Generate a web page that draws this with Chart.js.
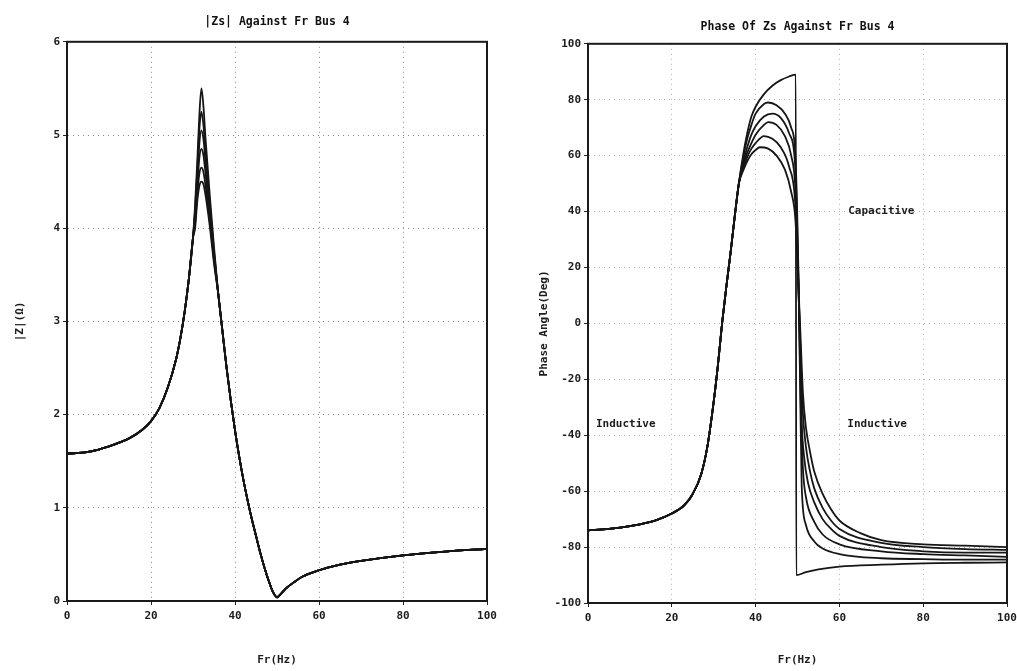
<!DOCTYPE html>
<html>
<head>
<meta charset="utf-8">
<script src="https://cdn.jsdelivr.net/npm/chart.js@4"></script>
<style>
  html, body { margin: 0; padding: 0; background: #fff; }
  #wrap { position: relative; width: 1017px; height: 671px; overflow: hidden; }
  #magBox { position: absolute; left: 0; top: 0; width: 505px; height: 671px; }
  #phaseBox { position: absolute; left: 505px; top: 0; width: 512px; height: 671px; }
</style>
</head>
<body>
<div id="wrap">
  <div id="magBox"><canvas id="magChart" width="505" height="671"></canvas></div>
  <div id="phaseBox"><canvas id="phaseChart" width="512" height="671"></canvas></div>
</div>
<script>
const freqTicks = [0, 20, 40, 60, 80, 100];
const magTicks = [0, 1, 2, 3, 4, 5, 6];
const phaseTicks = [-100, -80, -60, -40, -20, 0, 20, 40, 60, 80, 100];

// |Zs| - shared rise, per-case peak, shared fall
const magRiseFreq = [0, 5, 10, 15, 18, 20, 22, 24, 26, 27, 28, 29, 30];
const magRise = [1.58, 1.6, 1.66, 1.75, 1.84, 1.93, 2.07, 2.29, 2.6, 2.82, 3.1, 3.45, 3.9];
const magPeakFreq = [30.5, 31, 31.5, 32, 32.5, 33, 34, 35];
const magPeak1 = [4.25, 4.7, 5.2, 5.5, 5.3, 4.95, 4.35, 3.8];
const magPeak2 = [4.2, 4.6, 5.05, 5.25, 5.1, 4.8, 4.25, 3.75];
const magPeak3 = [4.15, 4.5, 4.9, 5.05, 4.95, 4.7, 4.2, 3.72];
const magPeak4 = [4.1, 4.42, 4.75, 4.85, 4.78, 4.58, 4.15, 3.7];
const magPeak5 = [4.05, 4.35, 4.58, 4.65, 4.6, 4.45, 4.08, 3.66];
const magPeak6 = [4.0, 4.28, 4.45, 4.5, 4.47, 4.35, 4.02, 3.62];
const magFallFreq = [36, 37, 38, 39, 40, 41, 42, 43, 44, 45, 46, 47, 48, 49, 50, 51, 52, 54, 56, 60, 65, 70, 80, 90, 100];
const magFall = [3.3, 2.9, 2.5, 2.15, 1.83, 1.55, 1.3, 1.08, 0.88, 0.7, 0.52, 0.36, 0.22, 0.1, 0.04, 0.08, 0.13, 0.2, 0.26, 0.33, 0.39, 0.43, 0.49, 0.53, 0.56];

// Phase of Zs - shared rise, then one tail per case
const phaseRiseFreq = [0, 5, 10, 16, 20, 23, 25, 27, 28.5, 30, 31, 32, 33, 34, 35, 36];
const phaseRise = [-74, -73.5, -72.5, -70.5, -68, -65, -61, -54, -44, -28, -15, 0, 13, 25, 38, 50];
const phaseFreqA = [37, 38, 39, 40, 42, 44, 46, 48, 49.6, 49.7, 52, 55, 60, 70, 80, 90, 100];
const phaseA = [60, 68, 74, 77.5, 82, 85, 87, 88.3, 89, -90, -89, -88, -87, -86.3, -85.8, -85.6, -85.5];
const phaseFreqB = [37, 38, 39, 40, 42, 43, 45, 47, 48.5, 49.5, 50.2, 50.6, 51, 52, 54, 56, 60, 70, 80, 90, 100];
const phaseB = [59, 66, 71, 75, 78.5, 79, 78, 75, 70, 60, 20, -20, -58, -72, -78, -80.5, -82.5, -84, -84.3, -84.5, -84.5];
const phaseFreqC = [37, 38, 39, 40, 42, 44, 46, 48, 49.5, 50.3, 50.8, 51.3, 52, 54, 56, 60, 70, 80, 90, 100];
const phaseC = [57.5, 63, 67.5, 70.5, 74, 75, 73.5, 68, 55, 10, -30, -52, -62, -71, -75.5, -79, -81.5, -82.5, -83, -83.5];
const phaseFreqD = [37, 38, 39, 40, 42, 43, 45, 47, 48.5, 49.5, 50.4, 51, 51.6, 52.5, 54, 56, 58, 60, 70, 80, 90, 100];
const phaseD = [56.5, 61, 64.5, 67.5, 71, 72, 71, 67, 60, 48, 5, -35, -48, -57, -64, -70, -73.5, -76, -80, -81.5, -82, -82];
const phaseFreqE = [37, 38, 39, 40, 42, 44, 46, 48, 49.5, 50.5, 51.2, 52, 53, 54, 56, 58, 60, 70, 80, 90, 100];
const phaseE = [55.5, 59.5, 62.5, 64.5, 67, 66, 63, 56, 42, 0, -30, -44, -53, -59, -66, -70.5, -73.5, -78.5, -80, -80.7, -81];
const phaseFreqF = [37, 38, 39, 40, 41, 43, 45, 47, 48.5, 49.5, 50.6, 51.3, 52, 53, 54, 56, 58, 60, 65, 70, 80, 90, 100];
const phaseF = [54.5, 58, 60.5, 62, 63, 62.5, 60, 55, 47, 37, 0, -25, -37, -46, -53, -61, -66.5, -70.5, -75, -77.5, -79, -79.5, -80];

const phaseNotes = [
  { text: 'Capacitive', x: 70, y: 40 },
  { text: 'Inductive', x: 9, y: -36 },
  { text: 'Inductive', x: 69, y: -36 }
];

Chart.defaults.font.family = "'DejaVu Sans Mono', monospace";
Chart.defaults.color = '#1c1c1c';

const toPoints = (fs, vs) => fs.map((f, i) => ({ x: f, y: vs[i] }));

const lineSet = (pts) => ({
  data: pts,
  showLine: true,
  borderColor: '#161616',
  borderWidth: 1.8,
  pointRadius: 0,
  cubicInterpolationMode: 'monotone',
  fill: false
});

const framePlugin = {
  id: 'frame',
  afterDatasetsDraw(chart) {
    const { ctx, chartArea: a } = chart;
    ctx.save();
    ctx.strokeStyle = '#1a1a1a';
    ctx.lineWidth = 2;
    ctx.strokeRect(a.left, a.top, a.right - a.left, a.bottom - a.top);
    ctx.restore();
  }
};

const notesPlugin = {
  id: 'notes',
  afterDatasetsDraw(chart, args, opts) {
    const { ctx, scales: { x, y } } = chart;
    ctx.save();
    ctx.font = "bold 11px 'DejaVu Sans Mono', monospace";
    ctx.fillStyle = '#1c1c1c';
    ctx.textAlign = 'center';
    ctx.textBaseline = 'middle';
    (opts.items || []).forEach(n => ctx.fillText(n.text, x.getPixelForValue(n.x), y.getPixelForValue(n.y)));
    ctx.restore();
  }
};

const makeOptions = (cfg) => ({
  responsive: false,
  animation: false,
  layout: { padding: { left: 0, right: cfg.padRight, top: 0, bottom: 0 } },
  plugins: {
    legend: { display: false },
    tooltip: { enabled: false },
    title: {
      display: true, text: cfg.title, fullSize: false, color: '#111',
      font: { size: 11.5, weight: 'bold' }, padding: cfg.titlePad
    },
    notes: { items: cfg.notes || [] }
  },
  scales: {
    x: {
      type: 'linear', min: 0, max: 100,
      afterBuildTicks: s => { s.ticks = freqTicks.map(v => ({ value: v })); },
      afterFit: s => { s.height = cfg.xHeight; s.paddingLeft = 0; s.paddingRight = 0; },
      grid: { color: cfg.gridColor, lineWidth: 1, tickLength: 4, tickColor: '#222' },
      border: { display: true, color: '#1a1a1a', width: 2, dash: [1, 4] },
      ticks: { font: { size: 11, weight: 'bold' }, padding: 5, maxRotation: 0 },
      title: { display: true, text: 'Fr(Hz)', font: { size: 11, weight: 'bold' }, padding: { top: 0, bottom: 4 } }
    },
    y: {
      type: 'linear', min: cfg.yMin, max: cfg.yMax,
      afterBuildTicks: s => { s.ticks = cfg.yTicks.map(v => ({ value: v })); },
      afterFit: s => { s.width = cfg.yWidth; },
      grid: { color: cfg.gridColor, lineWidth: 1, tickLength: 4, tickColor: '#222' },
      border: { display: true, color: '#1a1a1a', width: 2, dash: [1, 4] },
      ticks: { font: { size: 11, weight: 'bold' }, padding: 3 },
      title: { display: true, text: cfg.yTitle, font: { size: 11, weight: 'bold' }, padding: { top: cfg.yTitleGap, bottom: 0 } }
    }
  }
});

new Chart(document.getElementById('magChart'), {
  type: 'scatter',
  data: {
    datasets: [magPeak1, magPeak2, magPeak3, magPeak4, magPeak5, magPeak6].map(pk =>
      lineSet(toPoints(magRiseFreq.concat(magPeakFreq, magFallFreq), magRise.concat(pk, magFall))))
  },
  options: makeOptions({
    title: '|Zs| Against Fr Bus 4', titlePad: { top: 15, bottom: 13 },
    padRight: 18, xHeight: 70, yWidth: 67, yTitleGap: 14,
    yMin: 0, yMax: 6, yTicks: magTicks, yTitle: '|Z|(Ω)', gridColor: '#8a8a8a'
  }),
  plugins: [framePlugin]
});

const phaseTails = [[phaseFreqA, phaseA], [phaseFreqB, phaseB], [phaseFreqC, phaseC], [phaseFreqD, phaseD], [phaseFreqE, phaseE], [phaseFreqF, phaseF]];

new Chart(document.getElementById('phaseChart'), {
  type: 'scatter',
  data: {
    datasets: phaseTails.map(([fs, vs]) =>
      lineSet(toPoints(phaseRiseFreq.concat(fs), phaseRise.concat(vs))))
  },
  options: makeOptions({
    title: 'Phase Of Zs Against Fr Bus 4', titlePad: { top: 20, bottom: 10 },
    padRight: 10, xHeight: 68, yWidth: 83, yTitleGap: 33,
    yMin: -100, yMax: 100, yTicks: phaseTicks, yTitle: 'Phase Angle(Deg)', gridColor: '#b0b0b0',
    notes: phaseNotes
  }),
  plugins: [framePlugin, notesPlugin]
});
</script>
</body>
</html>
